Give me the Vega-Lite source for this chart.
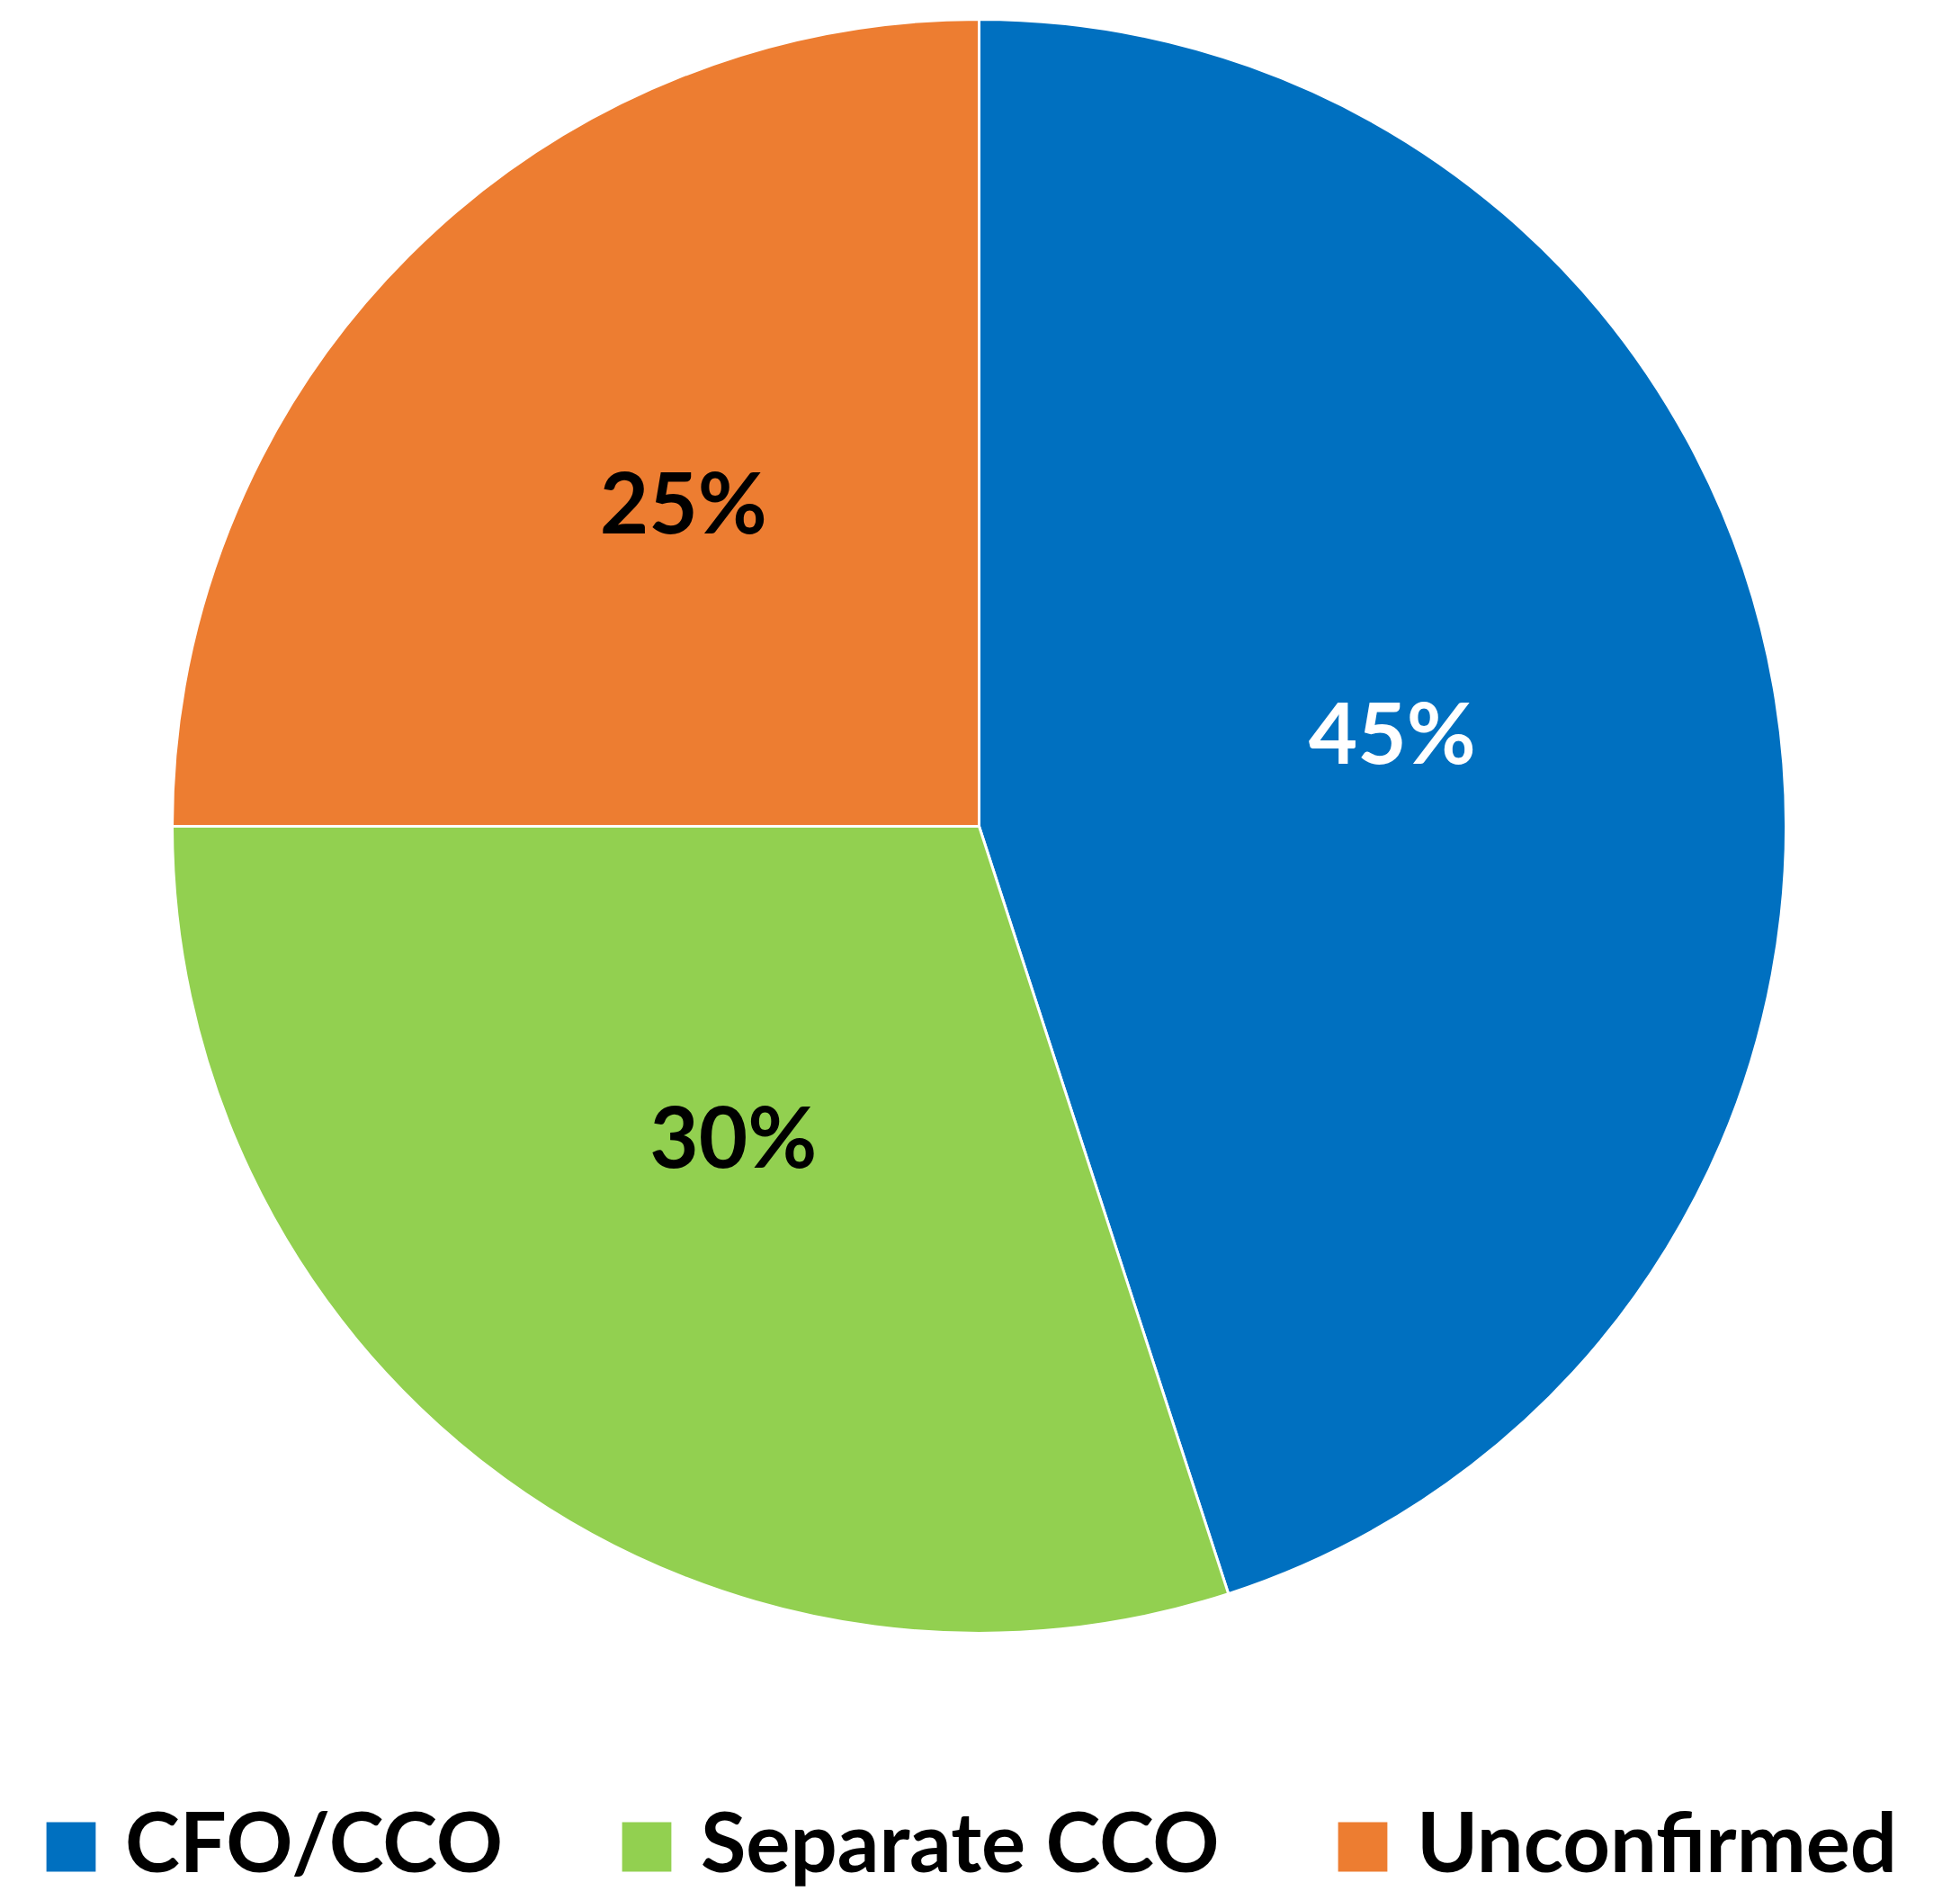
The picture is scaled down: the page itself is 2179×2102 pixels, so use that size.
{
  "$schema": "https://vega.github.io/schema/vega-lite/v6.json",
  "width": 2177,
  "height": 1837,
  "autosize": {"type": "none"},
  "padding": {"left": 0, "top": 0, "right": 2, "bottom": 265},
  "background": "white",
  "config": {"view": {"stroke": null}},
  "data": {
    "values": [
      {"group": "CFO/CCO", "value": 45, "label": "45%", "rank": 1},
      {"group": "Separate CCO", "value": 30, "label": "30%", "rank": 2},
      {"group": "Unconfirmed", "value": 25, "label": "25%", "rank": 3}
    ]
  },
  "encoding": {
    "theta": {"field": "value", "type": "quantitative", "stack": true},
    "order": {"field": "rank", "type": "quantitative"}
  },
  "layer": [
    {
      "mark": {"type": "arc", "radius": 897, "stroke": "white", "strokeWidth": 3},
      "encoding": {
        "color": {
          "field": "group",
          "type": "nominal",
          "scale": {"domain": ["CFO/CCO", "Separate CCO", "Unconfirmed"], "range": ["#0070C0", "#92D050", "#ED7D31"]},
          "legend": {
            "title": null,
            "orient": "none",
            "direction": "horizontal",
            "legendX": 33,
            "legendY": 2007,
            "symbolType": "square",
            "symbolSize": 3000,
            "symbolStrokeWidth": 0,
            "labelFont": "Lato",
            "labelFontWeight": "bold",
            "labelFontSize": 92,
            "labelColor": "black",
            "labelLimit": 1000,
            "labelOffset": 14,
            "columnPadding": 113,
            "padding": 0
          }
        }
      }
    },
    {
      "mark": {"type": "text", "radius": 465, "dy": -25, "font": "Lato", "fontWeight": "bold", "fontSize": 94, "align": "center", "baseline": "middle"},
      "encoding": {
        "text": {"field": "label", "type": "nominal"},
        "color": {"condition": {"test": "datum.group === 'CFO/CCO'", "value": "white"}, "value": "black"}
      }
    }
  ]
}
